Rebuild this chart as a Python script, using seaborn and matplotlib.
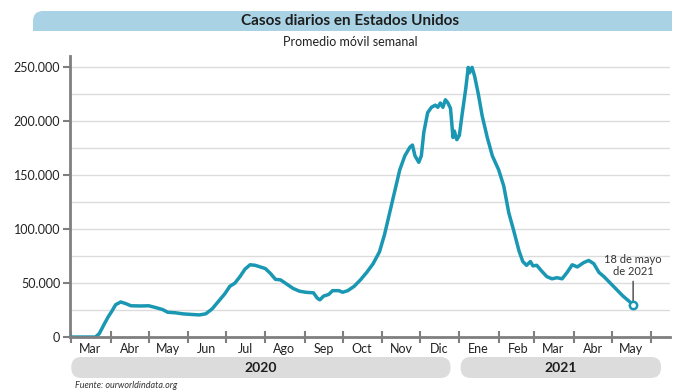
#!/usr/bin/env python3

import pandas as pd
import seaborn as sns
import matplotlib.pyplot as plt
import matplotlib.dates as mdates
import matplotlib.ticker as mticker
from matplotlib.patches import FancyBboxPatch, Rectangle

# 7-day average of daily cases
fechas = [
    '2020-03-01', '2020-03-20', '2020-03-23', '2020-03-27', '2020-03-30', '2020-04-02',
    '2020-04-05', '2020-04-09', '2020-04-13', '2020-04-17',
    '2020-04-25', '2020-05-01', '2020-05-06', '2020-05-12', '2020-05-16', '2020-05-22',
    '2020-05-28', '2020-06-03', '2020-06-10', '2020-06-15', '2020-06-20', '2020-06-25',
    '2020-06-30', '2020-07-04', '2020-07-08', '2020-07-12', '2020-07-16', '2020-07-20',
    '2020-07-24', '2020-07-28', '2020-08-01', '2020-08-05', '2020-08-09', '2020-08-13',
    '2020-08-18', '2020-08-23', '2020-08-28', '2020-09-02', '2020-09-08', '2020-09-11',
    '2020-09-13', '2020-09-16', '2020-09-20', '2020-09-23', '2020-09-28', '2020-10-01',
    '2020-10-05', '2020-10-10', '2020-10-15', '2020-10-20', '2020-10-25', '2020-10-30',
    '2020-11-03', '2020-11-07', '2020-11-11', '2020-11-15', '2020-11-19', '2020-11-23',
    '2020-11-25', '2020-11-27', '2020-11-30', '2020-12-02', '2020-12-04', '2020-12-07',
    '2020-12-10', '2020-12-13', '2020-12-15', '2020-12-17', '2020-12-19', '2020-12-21',
    '2020-12-23', '2020-12-25', '2020-12-27', '2020-12-28', '2020-12-30', '2021-01-01',
    '2021-01-03', '2021-01-06', '2021-01-08', '2021-01-09', '2021-01-11', '2021-01-13',
    '2021-01-16', '2021-01-19', '2021-01-23', '2021-01-27', '2021-02-01', '2021-02-05',
    '2021-02-09', '2021-02-13', '2021-02-17', '2021-02-20', '2021-02-23', '2021-02-26',
    '2021-02-28', '2021-03-03', '2021-03-07', '2021-03-11', '2021-03-15', '2021-03-19',
    '2021-03-23', '2021-03-27', '2021-03-31', '2021-04-04', '2021-04-09', '2021-04-13',
    '2021-04-17', '2021-04-21', '2021-04-25', '2021-04-30', '2021-05-05', '2021-05-10',
    '2021-05-14', '2021-05-18',
]
casos = [
    0, 0, 3000, 12000, 18500, 24000,
    30000, 32500, 31000, 29000,
    28800, 29000, 27500, 25500, 23000, 22500,
    21500, 21000, 20500, 21500, 26000, 33000,
    40000, 47000, 50000, 56000, 63000, 67000,
    66500, 65000, 63500, 59000, 53500, 53000,
    49000, 45000, 42500, 41500, 41000, 36000,
    34500, 38000, 39500, 43000, 43000, 41500,
    43000, 47000, 53000, 60000, 68000, 79000,
    95000, 115000, 135000, 155000, 168000, 176000,
    178000, 168000, 162000, 168000, 190000, 208000,
    213000, 215000, 213000, 217000, 213000, 220000,
    217000, 212000, 185000, 191000, 183000, 187000,
    205000, 230000, 250000, 245000, 250000, 242000,
    225000, 205000, 185000, 168000, 155000, 140000,
    115000, 98000, 80000, 70000, 66500, 70000,
    66000, 66500, 61000, 56000, 54000, 55000,
    54000, 60000, 67000, 65000, 69000, 71000,
    68000, 60000, 56000, 50000, 44000, 38000,
    34000, 30000,
]

meses = ['Mar', 'Abr', 'May', 'Jun', 'Jul', 'Ago', 'Sep', 'Oct', 'Nov', 'Dic',
         'Ene', 'Feb', 'Mar', 'Abr', 'May']
anios = ['2020', '2021']

LINE = '#1a97b3'
AXIS = '#7f7f7f'


def fmt_miles(v, pos):
    return f"{v:,.0f}".replace(',', '.')


def main() -> None:
    sns.set_style('white')
    plt.rcParams['font.family'] = ['Lato', 'DejaVu Sans']

    df = pd.DataFrame({'fecha': pd.to_datetime(fechas), 'casos': casos})

    fig = plt.figure(figsize=(7, 3.91), dpi=100)
    ax = fig.add_axes([0.1, 0.138, 0.857, 0.72])

    sns.lineplot(data=df, x='fecha', y='casos', ax=ax, color=LINE, linewidth=2.5,
                 zorder=3, solid_capstyle='round', solid_joinstyle='round')

    ax.set_xlim(pd.Timestamp('2020-02-29'), pd.Timestamp('2021-06-16'))
    ax.set_ylim(0, 261000)
    ax.set_xlabel('')
    ax.set_ylabel('')

    # y axis
    ax.yaxis.set_major_locator(mticker.MultipleLocator(50000))
    ax.yaxis.set_minor_locator(mticker.MultipleLocator(25000))
    ax.yaxis.set_major_formatter(mticker.FuncFormatter(fmt_miles))
    ax.grid(True, axis='y', which='both', color='#dcdcdc', linewidth=1, zorder=0)
    ax.tick_params(axis='y', which='major', direction='out', length=5, width=1.5,
                   color=AXIS, labelsize=9, labelcolor='#222222', pad=2, left=True)
    ax.tick_params(axis='y', which='minor', length=0)

    # x axis: ticks at month starts, labels mid-month
    ax.xaxis.set_major_locator(mdates.MonthLocator())
    ax.xaxis.set_major_formatter(mticker.NullFormatter())
    ax.xaxis.set_minor_locator(mdates.MonthLocator(bymonthday=16))
    ax.xaxis.set_minor_formatter(
        mticker.FuncFormatter(lambda v, pos: meses[(mdates.num2date(v).month - 3) % 12]
                              if mdates.num2date(v).year == 2020 or mdates.num2date(v).month <= 5 else ''))
    ax.tick_params(axis='x', which='major', direction='inout', length=9, width=1.5,
                   color=AXIS, bottom=True)
    ax.tick_params(axis='x', which='minor', length=0, labelsize=9,
                   labelcolor='#222222', pad=4)

    for s in ['top', 'right']:
        ax.spines[s].set_visible(False)
    for s in ['left', 'bottom']:
        ax.spines[s].set_color(AXIS)
        ax.spines[s].set_linewidth(2)
    ax.spines['bottom'].set_zorder(4)

    # last point marker and annotation
    last = df.iloc[-1]
    ax.scatter([last['fecha']], [last['casos']], s=28, facecolor='white',
               edgecolor=LINE, linewidth=1.8, zorder=5)
    ax.annotate('18 de mayo\nde 2021', xy=(last['fecha'], last['casos'] + 3500),
                xytext=(last['fecha'], last['casos'] + 26000),
                ha='center', va='bottom', fontsize=8, color='#333333',
                linespacing=1.05,
                arrowprops=dict(arrowstyle='-', color='#444444', lw=1,
                                shrinkA=1, shrinkB=0))

    # title banner
    W, H = fig.get_size_inches() * fig.dpi
    x0, x1 = 33 / W, 672 / W
    y0, y1 = 1 - 31 / H, 1 - 11 / H
    r = 10 / W
    banner = '#a9d3e4'
    fig.patches.append(FancyBboxPatch((x0, y0), x1 - x0, y1 - y0,
                                      boxstyle=f'round,pad=0,rounding_size={r}',
                                      mutation_aspect=W / H, transform=fig.transFigure,
                                      facecolor=banner, edgecolor='none'))
    fig.patches.append(Rectangle((x0 + r, y0), x1 - x0 - r, y1 - y0,
                                 transform=fig.transFigure, facecolor=banner, edgecolor='none'))
    fig.patches.append(Rectangle((x0, y0), x1 - x0, (y1 - y0) - r * W / H,
                                 transform=fig.transFigure, facecolor=banner, edgecolor='none'))
    fig.text(0.5, (y0 + y1) / 2, 'Casos diarios en Estados Unidos', ha='center', va='center',
             fontsize=11, fontweight='bold', color='#1e1e1e')
    fig.text(0.5, 1 - 42 / H, 'Promedio móvil semanal', ha='center', va='center',
             fontsize=9, color='#222222')

    # year bands under the month labels
    to_fig = lambda d: fig.transFigure.inverted().transform(
        ax.transData.transform((mdates.date2num(pd.Timestamp(d)), 0)))[0]
    bands = [('2020-03-01', '2020-12-25'), ('2021-01-02', '2021-06-09')]
    by0, by1 = 1 - 378 / H, 1 - 357 / H
    for (a, b), label in zip(bands, anios):
        bx0, bx1 = to_fig(a), to_fig(b)
        fig.patches.append(FancyBboxPatch((bx0, by0), bx1 - bx0, by1 - by0,
                                          boxstyle=f'round,pad=0,rounding_size={10 / W}',
                                          mutation_aspect=W / H, transform=fig.transFigure,
                                          facecolor='#dcdcdc', edgecolor='none'))
        fig.text((bx0 + bx1) / 2, (by0 + by1) / 2, label, ha='center', va='center',
                 fontsize=10, fontweight='bold', color='#1e1e1e')

    fig.text(75 / W, 1 - 385 / H, 'Fuente: ourworldindata.org', ha='left', va='center',
             fontsize=6.5, style='italic', color='#333333')

    fig.savefig('out.png', dpi=100, facecolor='white')
    plt.close(fig)


if __name__ == "__main__":
    main()
